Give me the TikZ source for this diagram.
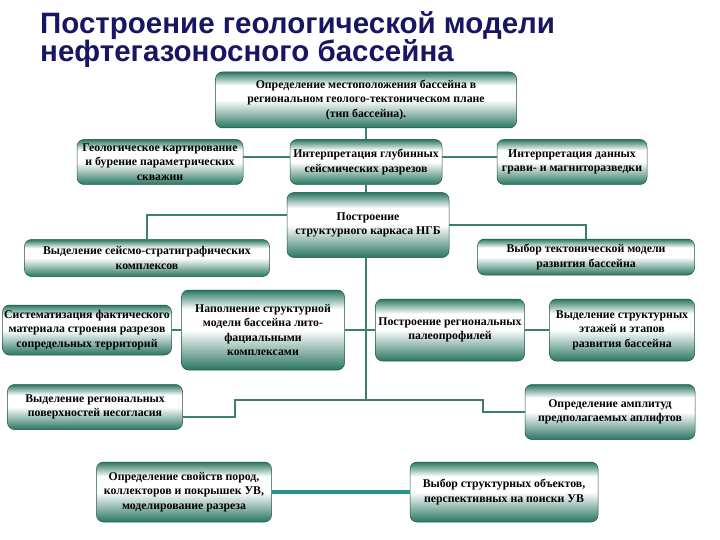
\documentclass[tikz,border=0pt]{standalone}
\usepackage{fontspec}
\setmainfont{Liberation Serif}
\newfontfamily\titlefont{Liberation Sans}
\usepackage{tikz}
\definecolor{boxteal}{RGB}{42,118,98}
\definecolor{linkteal}{RGB}{58,128,112}
\definecolor{linkcyan}{RGB}{38,150,140}
\definecolor{titleblue}{RGB}{22,22,100}
\pgfdeclareverticalshading{tealfade}{100bp}{color(0bp)=(boxteal); color(25bp)=(boxteal); color(50bp)=(white); color(63bp)=(white); color(75bp)=(boxteal); color(100bp)=(boxteal)}

\begin{document}
\begin{tikzpicture}[x=1pt,y=-1pt,
  box/.style={rectangle,rounded corners=7pt,draw=boxteal!70!black,line width=0.5pt,
    shading=tealfade,align=center,inner sep=1pt,font=\fontsize{11.8}{14.5}\selectfont\bfseries},
  link/.style={draw=linkteal,line width=2.6pt},
  ttl/.style={anchor=base west,text=titleblue,inner sep=0pt,font=\titlefont\fontsize{29.5}{30}\selectfont\bfseries}]
\useasboundingbox (0,0) rectangle (720,540);
\node[ttl] (title1) at (40,34) {Построение геологической модели};
\node[ttl] (title2) at (40,62) {нефтегазоносного бассейна};
\foreach \nm/\cx/\cy/\w/\h/\txt in {%
  top/366/100/301/56/{Определение местоположения бассейна в\\региональном геолого-тектоническом плане\\(тип бассейна).},
  geo/160/162/166/45/{Геологическое картирование\\и бурение параметрических\\скважин},
  seis/366/162/152/45/{Интерпретация глубинных\\сейсмических разрезов},
  grav/572/162/150/45/{Интерпретация данных\\грави- и магниторазведки},
  karkas/368/225/162/65/{Построение\\структурного каркаса НГБ},
  sso/147/258/245/37/{Выделение сейсмо-стратиграфических\\комплексов},
  tekt/586/257/217/36/{Выбор тектонической модели\\развития бассейна},
  sist/87/330/169/50/{Систематизация фактического\\материала строения разрезов\\сопредельных территорий},
  napoln/263/330/163/80/{Наполнение структурной\\модели бассейна лито-\\фациальными\\комплексами},
  paleo/450/330/149/62/{Построение региональных\\палеопрофилей},
  etazh/622/330/145/62/{Выделение структурных\\этажей и этапов\\развития бассейна},
  nesogl/95/407/175/45/{Выделение региональных\\поверхностей несогласия},
  amplit/610/412/170/55/{Определение амплитуд\\предполагаемых аплифтов},
  svoistva/184/492/175/60/{Определение свойств пород,\\коллекторов и покрышек УВ,\\моделирование разреза},
  obekty/504/492/188/60/{Выбор структурных объектов,\\перспективных на поиски УВ}} {
  \node[box,minimum width=\w pt,minimum height=\h pt] (\nm) at (\cx,\cy) {\txt};
}
\coordinate (trunkend) at (366,400);
\coordinate (bendL) at (235,400);
\coordinate (bendR) at (483,400);
\draw[link] (top.south) -- (seis.north);
\draw[link] ([yshift=5pt]geo.east) -- ([yshift=5pt]seis.west);
\draw[link] ([yshift=5pt]seis.east) -- ([yshift=5pt]grav.west);
\draw[link] (seis.south) -- (seis.south |- karkas.north);
\draw[link] ([yshift=10pt]karkas.west) -| (sso.north);
\draw[link] (karkas.east) -| (tekt.north);
\draw[link] (trunkend |- karkas.south) -- (trunkend);
\draw[link] (sist.east) -- (napoln.west);
\draw[link] (napoln.east) -- (paleo.west);
\draw[link] (paleo.east) -- (etazh.west);
\draw[link] ([yshift=-10pt]nesogl.east) -| (bendL) -- (bendR) |- (amplit.west);
\draw[link,draw=linkcyan,line width=3.4pt] (svoistva.east) -- (obekty.west);
\end{tikzpicture}
\end{document}
